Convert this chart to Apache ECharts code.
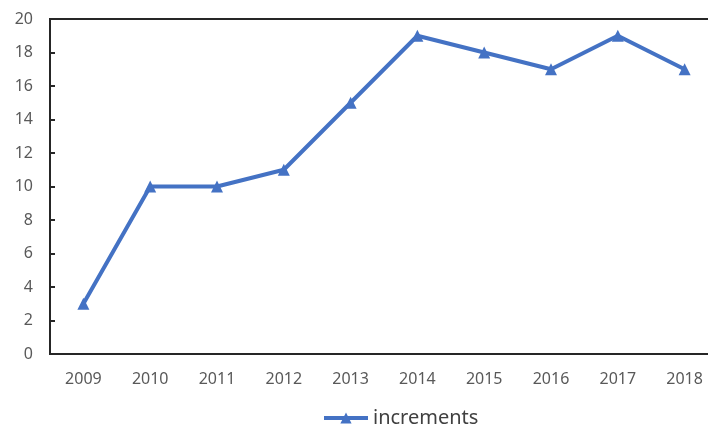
<!DOCTYPE html>
<html>
<head>
<meta charset="utf-8">
<script src="https://cdn.jsdelivr.net/npm/echarts@6/dist/echarts.min.js"></script>
<style>
  html, body { margin: 0; padding: 0; background: #fff; }
  #chart { width: 708px; height: 428px; }
</style>
</head>
<body>
<div id="chart"></div>
<script>
const years = ['2009', '2010', '2011', '2012', '2013', '2014', '2015', '2016', '2017', '2018']
const increments = [3, 10, 10, 11, 15, 19, 18, 17, 19, 17]

const myChart = echarts.init(document.getElementById('chart'))

const labelStyle = {
  color: '#595959',
  fontFamily: 'Noto Sans',
  fontSize: 16,
}

const option = {
  animation: false,
  grid: {
    left: 50,
    top: 19,
    width: 668,
    bottom: 74,
    outerBoundsMode: 'none',
    containLabel: false,
    show: true,
    borderColor: '#262626',
    borderWidth: 2,
  },
  legend: {
    data: ['increments'],
    top: 403,
    left: 317,
    itemWidth: 44,
    itemHeight: 14,
    itemGap: 10,
    lineStyle: { width: 4 },
    textStyle: { color: '#404040', fontFamily: 'Noto Sans', fontSize: 20 },
  },
  xAxis: {
    type: 'category',
    data: years,
    axisLine: { lineStyle: { color: '#262626', width: 2 } },
    axisTick: { inside: true, length: 4, alignWithLabel: true, lineStyle: { color: '#262626', width: 2 } },
    axisLabel: { ...labelStyle, margin: 17 },
  },
  yAxis: {
    type: 'value',
    min: 0,
    max: 20,
    interval: 2,
    splitLine: { show: false },
    axisLine: { show: true, lineStyle: { color: '#262626', width: 2 } },
    axisTick: { show: true, inside: true, length: 5, lineStyle: { color: '#262626', width: 2 } },
    axisLabel: { ...labelStyle, margin: 17 },
  },
  series: [
    {
      name: 'increments',
      type: 'line',
      data: increments,
      symbol: 'triangle',
      symbolSize: 12,
      lineStyle: { color: '#4472C4', width: 4 },
      itemStyle: { color: '#4472C4' },
    },
  ],
}

myChart.setOption(option)

window.addEventListener('resize', () => {
  myChart.resize()
})
</script>
</body>
</html>
